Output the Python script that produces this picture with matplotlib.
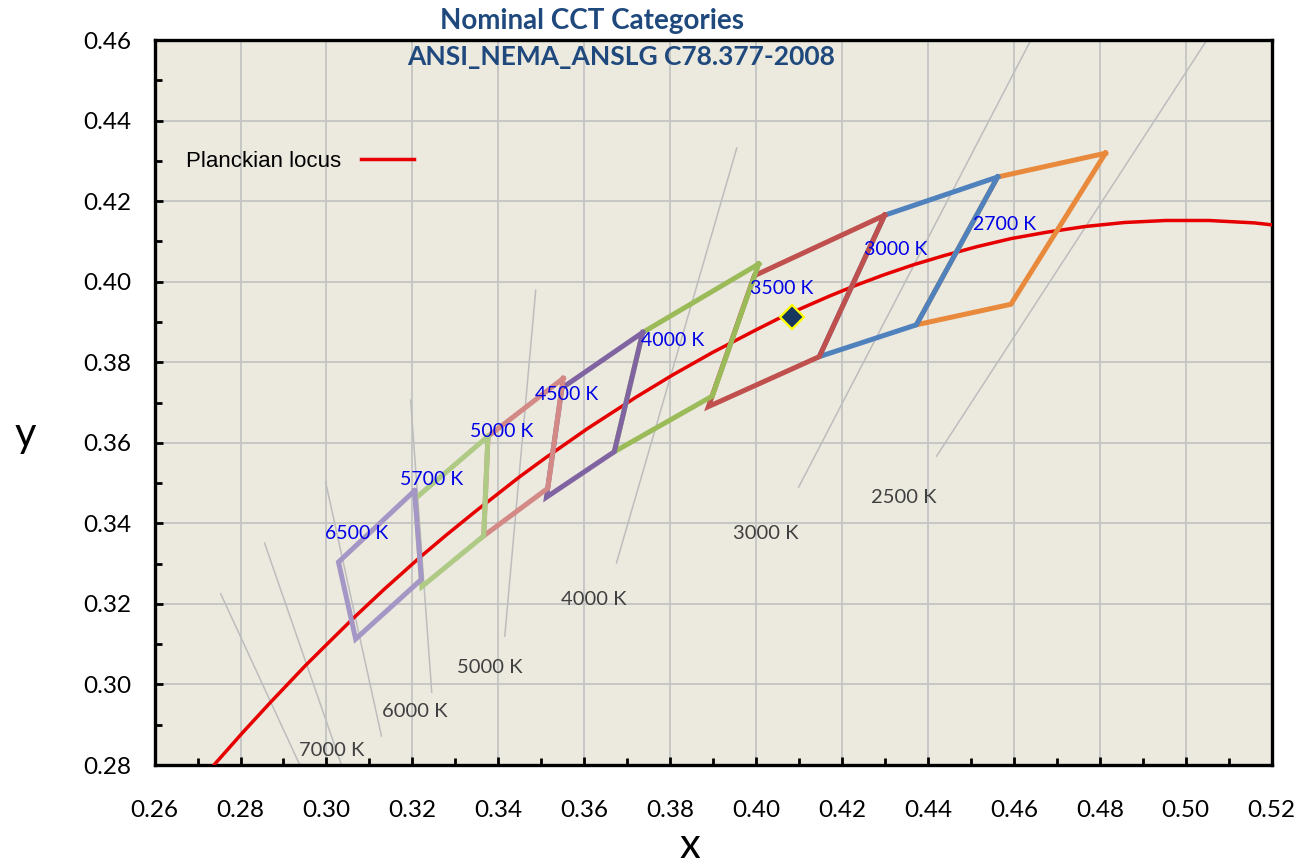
import matplotlib
matplotlib.use('Agg')
import matplotlib.pyplot as plt
from matplotlib.ticker import MultipleLocator, FormatStrFormatter

# Planckian locus (CIE 1931 x, y)
locus_x = [0.2637, 0.2718, 0.2758, 0.2807, 0.2870, 0.2952, 0.3004, 0.3064, 0.3135,
           0.3220, 0.3280, 0.3347, 0.3450, 0.3509, 0.3607, 0.3720, 0.3805, 0.3898,
           0.3999, 0.4053, 0.4110, 0.4170, 0.4232, 0.4297, 0.4366, 0.4438, 0.4514,
           0.4593, 0.4677, 0.4765, 0.4857, 0.4953, 0.5054, 0.5160, 0.5269]
locus_y = [0.2672, 0.2776, 0.2824, 0.2883, 0.2956, 0.3048, 0.3103, 0.3166, 0.3237,
           0.3318, 0.3372, 0.3430, 0.3516, 0.3562, 0.3635, 0.3713, 0.3768, 0.3824,
           0.3880, 0.3909, 0.3936, 0.3964, 0.3991, 0.4017, 0.4042, 0.4065, 0.4087,
           0.4107, 0.4123, 0.4137, 0.4147, 0.4152, 0.4152, 0.4146, 0.4133]

# ANSI C78.377-2008 quadrangles (drawn in this order)
quad_names = ['2700 K', '3000 K', '3500 K', '4000 K', '4500 K', '5000 K', '5700 K', '6500 K']
quad_x = [
    [0.4813, 0.4562, 0.4373, 0.4593],
    [0.4562, 0.4299, 0.4147, 0.4373],
    [0.4299, 0.3996, 0.3889, 0.4147],
    [0.4006, 0.3736, 0.3670, 0.3898],
    [0.3736, 0.3548, 0.3512, 0.3670],
    [0.3551, 0.3376, 0.3366, 0.3515],
    [0.3376, 0.3207, 0.3222, 0.3366],
    [0.3205, 0.3028, 0.3068, 0.3221],
]
quad_y = [
    [0.4319, 0.4260, 0.3893, 0.3944],
    [0.4260, 0.4165, 0.3814, 0.3893],
    [0.4165, 0.4015, 0.3690, 0.3814],
    [0.4044, 0.3874, 0.3578, 0.3716],
    [0.3874, 0.3736, 0.3465, 0.3578],
    [0.3760, 0.3616, 0.3369, 0.3487],
    [0.3616, 0.3462, 0.3243, 0.3369],
    [0.3481, 0.3304, 0.3113, 0.3261],
]
quad_colors = ['#E8893B', '#4F81BD', '#C0504D', '#9BBB59',
               '#8064A2', '#D38A86', '#AFCA84', '#A497C5']
quad_label_x = [0.4579, 0.4325, 0.4060, 0.3806, 0.3559, 0.3408, 0.3245, 0.3070]
quad_label_y = [0.4143, 0.4079, 0.3982, 0.3855, 0.3721, 0.3629, 0.3508, 0.3374]

# isotemperature lines
iso_x0 = [0.2754, 0.2856, 0.2998, 0.3196, 0.3487, 0.3955, 0.4637, 0.5046]
iso_y0 = [0.3225, 0.3351, 0.3503, 0.3706, 0.3979, 0.4332, 0.4595, 0.4595]
iso_x1 = [0.2938, 0.3035, 0.3128, 0.3245, 0.3415, 0.3675, 0.4099, 0.4420]
iso_y1 = [0.2800, 0.2800, 0.2872, 0.2981, 0.3120, 0.3302, 0.3490, 0.3567]
iso_labels = ['7000 K', '6000 K', '5000 K', '4000 K', '3000 K', '2500 K']
iso_label_x = [0.3012, 0.3205, 0.3380, 0.3622, 0.4022, 0.4344]
iso_label_y = [0.2837, 0.2932, 0.3041, 0.3212, 0.3374, 0.3465]

# measured point
point_x = [0.4083]
point_y = [0.3913]

plt.rcParams['font.family'] = ['Lato', 'DejaVu Sans']

fig = plt.figure(figsize=(12.99, 8.67), dpi=100)
ax = fig.add_axes([0.119, 0.1176, 0.86, 0.8362])
ax.set_facecolor('#ECE9DF')

for x0, y0, x1, y1 in zip(iso_x0, iso_y0, iso_x1, iso_y1):
    ax.plot([x0, x1], [y0, y1], color='#BDBDBD', lw=1.1, zorder=2)
for s, xx, yy in zip(iso_labels, iso_label_x, iso_label_y):
    ax.text(xx, yy, s, color='#404040', fontsize=14.5, ha='center', va='center', zorder=3)

locus, = ax.plot(locus_x, locus_y, color='#E60000', lw=2.5, zorder=4,
                 label='Planckian locus')

for qx, qy, c in zip(quad_x, quad_y, quad_colors):
    ax.plot(qx + qx[:1], qy + qy[:1], color=c, lw=3.6, zorder=5,
            solid_joinstyle='miter')

for s, xx, yy in zip(quad_names, quad_label_x, quad_label_y):
    ax.text(xx, yy, s, color='#0000E6', fontsize=14, ha='center', va='center', zorder=6)

ax.plot(point_x, point_y, marker='D', markersize=12, color='#17365D',
        markeredgecolor='#FFFF00', markeredgewidth=1.6, ls='none', zorder=7)

ax.set_xlim(0.26, 0.52)
ax.set_ylim(0.28, 0.46)
ax.xaxis.set_major_locator(MultipleLocator(0.02))
ax.yaxis.set_major_locator(MultipleLocator(0.02))
ax.xaxis.set_minor_locator(MultipleLocator(0.01))
ax.yaxis.set_minor_locator(MultipleLocator(0.01))
ax.xaxis.set_major_formatter(FormatStrFormatter('%.2f'))
ax.yaxis.set_major_formatter(FormatStrFormatter('%.2f'))
ax.grid(True, which='major', color='#C4C4C4', lw=1.3, zorder=1)
ax.set_axisbelow(True)
ax.tick_params(which='both', direction='in', width=2, colors='black',
               labelsize=17.5, top=False, right=False)
ax.tick_params(which='major', length=6)
ax.tick_params(which='minor', length=5)
ax.tick_params(axis='x', which='major', pad=25)
ax.tick_params(axis='y', which='major', pad=17)
for sp in ax.spines.values():
    sp.set_linewidth(2.4)
    sp.set_color('black')

ax.set_xlabel('x', fontsize=30, va='center')
ax.set_ylabel('y', fontsize=30, rotation=0, va='center', ha='center')
ax.xaxis.set_label_coords(0.479, -0.112)
ax.yaxis.set_label_coords(-0.116, 0.455)

leg = ax.legend(handles=[locus], loc='upper left', bbox_to_anchor=(0.01, 0.875),
                frameon=False, markerfirst=False, handlelength=2.4, handletextpad=0.9,
                prop={'family': 'Liberation Sans', 'size': 16})

fig.text(0.456, 0.976, 'Nominal CCT Categories', fontsize=20, fontweight='bold',
         color='#1F497D', ha='center', va='center')
fig.text(0.478, 0.934, 'ANSI_NEMA_ANSLG C78.377-2008', fontsize=19, fontweight='bold',
         color='#1F497D', ha='center', va='center')

fig.savefig('out.png', dpi=100)
